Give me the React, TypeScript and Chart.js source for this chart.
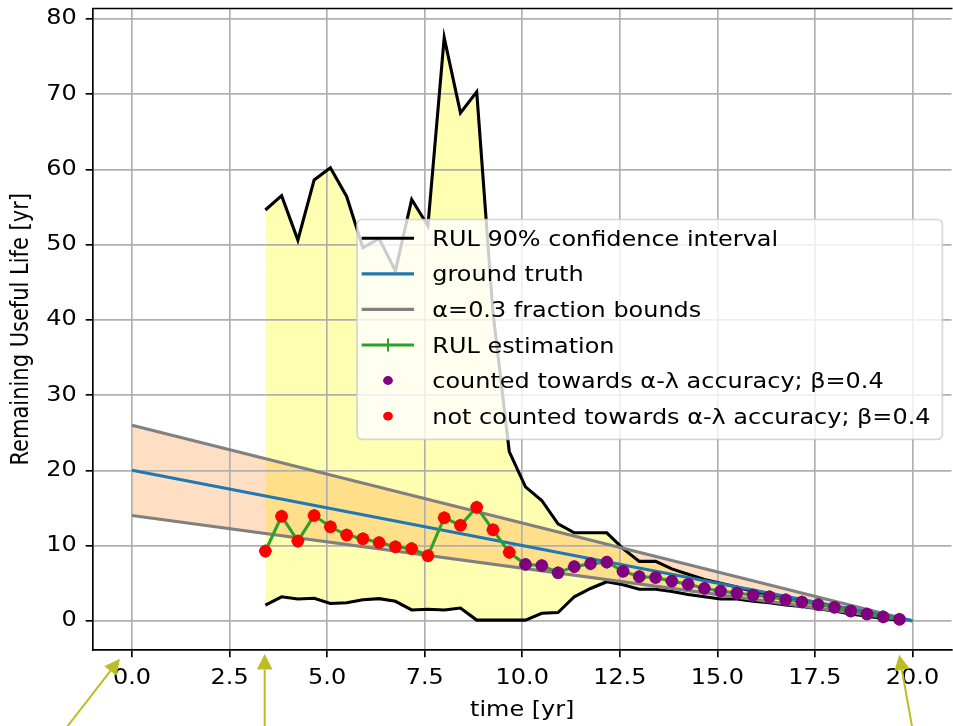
import React, { useEffect, useRef } from 'react';
import { Chart, registerables } from 'chart.js';

Chart.register(...registerables);

// ---------- data ----------
const times = [
  3.417, 3.833, 4.25, 4.667, 5.083, 5.5, 5.917, 6.333, 6.75, 7.167,
  7.583, 8.0, 8.417, 8.833, 9.25, 9.667, 10.083, 10.5, 10.917, 11.333,
  11.75, 12.167, 12.583, 13.0, 13.417, 13.833, 14.25, 14.667, 15.083, 15.5,
  15.917, 16.333, 16.75, 17.167, 17.583, 18.0, 18.417, 18.833, 19.25, 19.667,
];
const rulEstimate = [
  9.27, 13.9, 10.6, 14.0, 12.5, 11.4, 10.9, 10.4, 9.85, 9.6,
  8.65, 13.7, 12.7, 15.1, 12.1, 9.1, 7.5, 7.35, 6.4, 7.2,
  7.6, 7.8, 6.6, 5.87, 5.75, 5.28, 4.86, 4.32, 3.95, 3.7,
  3.44, 3.2, 2.8, 2.5, 2.16, 1.8, 1.3, 0.9, 0.53, 0.22,
];
const ciUpper = [
  54.6, 56.5, 50.6, 58.6, 60.2, 56.4, 49.6, 50.8, 46.5, 56.0,
  52.5, 77.5, 67.5, 70.3, 41.0, 22.5, 17.8, 16.0, 12.9, 11.7,
  11.7, 11.7, 9.6, 7.9, 7.9, 6.9, 6.2, 5.5, 5.0, 4.5,
  3.9, 3.5, 3.0, 2.7, 2.3, 1.9, 1.5, 1.1, 0.7, 0.35,
];
const ciLower = [
  2.1, 3.2, 2.9, 3.0, 2.3, 2.4, 2.8, 2.95, 2.6, 1.45,
  1.55, 1.45, 1.7, 0.1, 0.1, 0.1, 0.1, 1.0, 1.1, 3.2,
  4.3, 5.2, 4.8, 4.2, 4.2, 3.9, 3.5, 3.2, 2.9, 2.9,
  2.6, 2.4, 2.1, 1.9, 1.6, 1.3, 0.9, 0.6, 0.3, 0.1,
];
const counted = [
  false, false, false, false, false, false, false, false, false, false,
  false, false, false, false, false, false, true, true, true, true,
  true, true, true, true, true, true, true, true, true, true,
  true, true, true, true, true, true, true, true, true, true,
];
const truthTimes = [0, 20];
const truthValues = [20, 0];
const boundUpperValues = [26, 0];
const boundLowerValues = [14, 0];

const legendLabels = [
  'RUL 90% confidence interval',
  'ground truth',
  'α=0.3 fraction bounds',
  'RUL estimation',
  'counted towards α-λ accuracy; β=0.4',
  'not counted towards α-λ accuracy; β=0.4',
];

// annotation arrows (data coordinates): tail -> tip
const arrowTailX = [-2.01, 3.4, 20.07];
const arrowTailY = [-16.4, -16.4, -16.4];
const arrowTipX = [-0.31, 3.4, 19.66];
const arrowTipY = [-5.03, -4.41, -4.5];

// ---------- styling ----------
const FONT = 'DejaVu Sans';
const FS = 21;
const TEXT_SX = 1.14; // glyphs in the reference are horizontally wider
const C_BLUE = '#1f77b4';
const C_GREEN = '#2ca02c';
const C_GRAY = '#808080';
const C_PURPLE = '#800080';
const C_RED = '#ff0000';
const C_OLIVE = '#bcbd22';

const pts = (xs: number[], ys: number[]) => xs.map((x, i) => ({ x, y: ys[i] }));

const decorPlugin = {
  id: 'decor',
  afterDraw(chart: any) {
    const { ctx, chartArea: ca, scales } = chart;
    const xs = scales.x;
    const ys = scales.y;
    ctx.save();
    // top spine
    ctx.strokeStyle = '#000';
    ctx.lineWidth = 1.67;
    ctx.beginPath();
    ctx.moveTo(ca.left - 0.8, ca.top);
    ctx.lineTo(ca.right + 1, ca.top);
    ctx.stroke();

    // legend
    const L = 357, T = 219.5, R = 942.4, B = 439.3;
    ctx.beginPath();
    (ctx as any).roundRect(L, T, R - L, B - T, 5);
    ctx.fillStyle = 'rgba(255,255,255,0.8)';
    ctx.fill();
    ctx.strokeStyle = 'rgba(204,204,204,0.8)';
    ctx.lineWidth = 1.7;
    ctx.stroke();

    const rowY0 = 238.3;
    const rowDy = 35.55;
    const hx0 = 361.7, hx1 = 414, hxc = 388;
    const tx = 432.3;
    ctx.font = `${FS}px "${FONT}"`;
    ctx.textBaseline = 'alphabetic';
    ctx.textAlign = 'left';
    legendLabels.forEach((label, i) => {
      const cy = rowY0 + i * rowDy;
      ctx.lineCap = 'butt';
      if (i <= 3) {
        const col = ['#000', C_BLUE, C_GRAY, C_GREEN][i];
        ctx.strokeStyle = col;
        ctx.lineWidth = 3.1;
        ctx.beginPath();
        ctx.moveTo(hx0, cy);
        ctx.lineTo(hx1, cy);
        ctx.stroke();
        if (i === 3) {
          ctx.lineWidth = 2;
          ctx.beginPath();
          ctx.moveTo(hxc, cy - 6.5);
          ctx.lineTo(hxc, cy + 6.5);
          ctx.stroke();
        }
      } else {
        ctx.fillStyle = i === 4 ? C_PURPLE : C_RED;
        ctx.beginPath();
        ctx.ellipse(hxc, cy, 4.9, 4.4, 0, 0, Math.PI * 2);
        ctx.fill();
      }
      ctx.fillStyle = '#000';
      ctx.fillText(label, tx, cy + 7.6);
    });

    // arrows
    ctx.strokeStyle = C_OLIVE;
    ctx.fillStyle = C_OLIVE;
    ctx.lineWidth = 2;
    for (let i = 0; i < arrowTipX.length; i++) {
      const x0 = xs.getPixelForValue(arrowTailX[i]);
      const y0 = ys.getPixelForValue(arrowTailY[i]);
      const x1 = xs.getPixelForValue(arrowTipX[i]);
      const y1 = ys.getPixelForValue(arrowTipY[i]);
      const ang = Math.atan2(y1 - y0, x1 - x0);
      const hl = 15.5, hw = 7.8;
      const bx = x1 - hl * Math.cos(ang);
      const by = y1 - hl * Math.sin(ang);
      ctx.beginPath();
      ctx.moveTo(x0, y0);
      ctx.lineTo(bx, by);
      ctx.stroke();
      ctx.beginPath();
      ctx.moveTo(x1, y1);
      ctx.lineTo(bx + hw * Math.sin(ang), by - hw * Math.cos(ang));
      ctx.lineTo(bx - hw * Math.sin(ang), by + hw * Math.cos(ang));
      ctx.closePath();
      ctx.fill();
    }
    ctx.restore();
  },
};

export default function App() {
  const ref = useRef<HTMLCanvasElement | null>(null);

  useEffect(() => {
    if (!ref.current) return;
    const canvasCtx = ref.current.getContext('2d') as any;
    const origFillText = CanvasRenderingContext2D.prototype.fillText;
    // widen glyphs horizontally (on screen) around the text anchor
    canvasCtx.fillText = function (text: string, x: number, y: number) {
      const m = this.getTransform();
      this.save();
      this.translate(x, y);
      if (Math.abs(m.b) > Math.abs(m.a)) this.scale(1, TEXT_SX);
      else this.scale(TEXT_SX, 1);
      origFillText.call(this, text, 0, 0);
      this.restore();
    };

    const redIdx = times.map((_, i) => i).filter((i) => !counted[i]);
    const purpleIdx = times.map((_, i) => i).filter((i) => counted[i]);

    const chart = new Chart(ref.current, {
      type: 'line',
      data: {
        datasets: [
          {
            label: 'not counted',
            data: redIdx.map((i) => ({ x: times[i], y: rulEstimate[i] })),
            showLine: false,
            pointRadius: 6.3,
            pointBackgroundColor: C_RED,
            pointBorderWidth: 0,
            pointBorderColor: C_RED,
          },
          {
            label: 'counted',
            data: purpleIdx.map((i) => ({ x: times[i], y: rulEstimate[i] })),
            showLine: false,
            pointRadius: 6.3,
            pointBackgroundColor: C_PURPLE,
            pointBorderWidth: 0,
            pointBorderColor: C_PURPLE,
          },
          {
            label: 'RUL estimation',
            data: pts(times, rulEstimate),
            borderColor: C_GREEN,
            borderWidth: 3.1,
            pointStyle: 'cross',
            pointRadius: 6.5,
            pointBorderWidth: 2,
            pointBorderColor: C_GREEN,
            fill: false,
          },
          {
            label: 'ground truth',
            data: pts(truthTimes, truthValues),
            borderColor: C_BLUE,
            borderWidth: 3.1,
            pointRadius: 0,
            fill: false,
          },
          {
            label: 'upper bound',
            data: pts(truthTimes, boundUpperValues),
            borderColor: C_GRAY,
            borderWidth: 3.1,
            pointRadius: 0,
            fill: { target: 5 },
            backgroundColor: 'rgba(255,127,14,0.25)',
          },
          {
            label: 'lower bound',
            data: pts(truthTimes, boundLowerValues),
            borderColor: C_GRAY,
            borderWidth: 3.1,
            pointRadius: 0,
            fill: false,
          },
          {
            label: 'CI upper',
            data: pts(times, ciUpper),
            borderColor: '#000',
            borderWidth: 3.1,
            pointRadius: 0,
            fill: { target: 7 },
            backgroundColor: 'rgba(255,255,0,0.3)',
          },
          {
            label: 'CI lower',
            data: pts(times, ciLower),
            borderColor: '#000',
            borderWidth: 3.1,
            pointRadius: 0,
            fill: false,
          },
        ],
      },
      options: {
        responsive: false,
        animation: false,
        events: [],
        layout: { padding: { top: 7, right: 5, left: 0, bottom: 0 } },
        elements: { line: { tension: 0 } },
        plugins: {
          legend: { display: false },
          tooltip: { enabled: false },
          filler: { propagate: false, drawTime: 'beforeDraw' },
        },
        scales: {
          x: {
            type: 'linear',
            min: -1,
            max: 21,
            afterFit: (s: any) => {
              s.height = 76;
              s.paddingLeft = 0;
              s.paddingRight = 0;
            },
            ticks: {
              stepSize: 2.5,
              includeBounds: false,
              autoSkip: false,
              maxRotation: 0,
              padding: 8.2,
              color: '#000',
              font: { family: FONT, size: FS },
              callback: (v: any) => Number(v).toFixed(1),
            },
            grid: {
              color: '#b0b0b0',
              lineWidth: 1.67,
              tickColor: '#000',
              tickLength: 7.3,
              tickWidth: 1.67,
            },
            border: { color: '#000', width: 1.67 },
            title: {
              display: true,
              text: 'time [yr]',
              color: '#000',
              font: { family: FONT, size: FS },
              padding: { top: 0, bottom: 2.5 },
            },
          },
          y: {
            type: 'linear',
            min: -3.875,
            max: 81.375,
            afterFit: (s: any) => {
              s.width = 93;
              s.paddingTop = 0;
              s.paddingBottom = 0;
            },
            ticks: {
              stepSize: 10,
              includeBounds: false,
              padding: 9,
              color: '#000',
              font: { family: FONT, size: FS },
              callback: (v: any) => String(Math.round(Number(v))),
            },
            grid: {
              color: '#b0b0b0',
              lineWidth: 1.67,
              tickColor: '#000',
              tickLength: 7.3,
              tickWidth: 1.67,
            },
            border: { color: '#000', width: 1.67 },
            title: {
              display: true,
              text: 'Remaining Useful Life [yr]',
              color: '#000',
              font: { family: FONT, size: FS },
              padding: { top: 9, bottom: 0 },
            },
          },
        },
      },
      plugins: [decorPlugin],
    } as any);

    return () => {
      chart.destroy();
      delete canvasCtx.fillText;
    };
  }, []);

  return (
    <div
      style={{
        position: 'fixed',
        left: 0,
        top: 0,
        width: 953,
        height: 726,
        overflow: 'hidden',
        background: '#fff',
      }}
    >
      <canvas ref={ref} width={960} height={726} style={{ display: 'block' }} />
    </div>
  );
}
